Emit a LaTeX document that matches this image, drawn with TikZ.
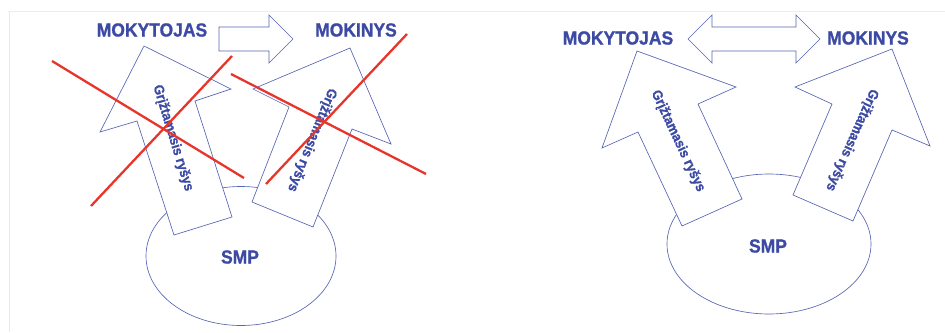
\documentclass[tikz,border=0pt]{standalone}
\usepackage{fontspec}
\setmainfont{Liberation Sans}
\newfontfamily\heavyfont{Liberation Sans Bold}[FakeBold=1.1,FakeStretch=0.92]
\usepackage{tikz}
\definecolor{inkblue}{HTML}{3C4AA4}
\definecolor{lineblue}{HTML}{5664B4}
\definecolor{crossred}{HTML}{E8352B}
\colorlet{framegray}{black!7}

\begin{document}
\begin{tikzpicture}[x=1pt, y=-1pt,
    shapeline/.style={draw=lineblue, line width=0.65pt, fill=white},
    crossline/.style={draw=crossred, line width=2.3pt},
    role/.style={text=inkblue, font=\heavyfont\fontsize{19}{21}\selectfont, inner sep=0pt},
    fb/.style={text=inkblue, font=\heavyfont\fontsize{14}{16}\selectfont, inner sep=0pt}]
    \useasboundingbox (0,0) rectangle (945,332);

    % Faint frame
    \draw[framegray, line width=0.6pt] (8,11) -- (945,11);
    \draw[lineblue!15, line width=0.8pt] (9,11) -- (9,332);

    % ---------- Left panel ----------
    \draw[shapeline] (241,256) ellipse [x radius=95, y radius=69.5];
    \node[role] (smpA) at (240,257) {SMP};

    % Feedback arrows
    \draw[shapeline] (144,46) -- (231,89) -- (195,101) -- (232,217)
        -- (174,235) -- (137,121) -- (100,132) -- cycle;
    \draw[shapeline] (350,48) -- (391,144) -- (352,129) -- (313,227)
        -- (252,202) -- (289,107) -- (253,89) -- cycle;
    \node[fb, rotate=-73] (fbA1) at (173,138) {Grįžtamasis ryšys};
    \node[fb, rotate=-112] (fbA2) at (312,140) {Grįžtamasis ryšys};

    % One-way arrow
    \draw[shapeline] (219,27) -- (269,27) -- (269,15) -- (293,39)
        -- (269,63) -- (269,51) -- (219,51) -- cycle;
    \node[role] (teacherA) at (152,30) {MOKYTOJAS};
    \node[role] (pupilA) at (356,30) {MOKINYS};

    % Crossing out
    \draw[crossline] (52,61) -- (244,178);
    \draw[crossline] (91,206) -- (232,56);
    \draw[crossline] (231,74) -- (426,174);
    \draw[crossline] (266,184) -- (407,34);

    % ---------- Right panel ----------
    \draw[shapeline] (769,244) ellipse [x radius=102, y radius=70];
    \node[role] (smpB) at (768,246) {SMP};

    % Feedback arrows
    \draw[shapeline] (637,51) -- (736,87) -- (698,104) -- (742,199)
        -- (682,226) -- (638,132) -- (602,148) -- cycle;
    \draw[shapeline] (892,49) -- (930,146) -- (892,130) -- (853,221)
        -- (793,195) -- (832,104) -- (795,87) -- cycle;
    \node[fb, rotate=-65] (fbB1) at (678,141) {Grįžtamasis ryšys};
    \node[fb, rotate=-114] (fbB2) at (852,140) {Grįžtamasis ryšys};

    % Two-way arrow
    \draw[shapeline] (688,39) -- (712,15) -- (712,27) -- (796,27) -- (796,15)
        -- (820,39) -- (796,63) -- (796,51) -- (712,51) -- (712,63) -- cycle;
    \node[role] (teacherB) at (618,38) {MOKYTOJAS};
    \node[role] (pupilB) at (868,38) {MOKINYS};
\end{tikzpicture}
\end{document}
